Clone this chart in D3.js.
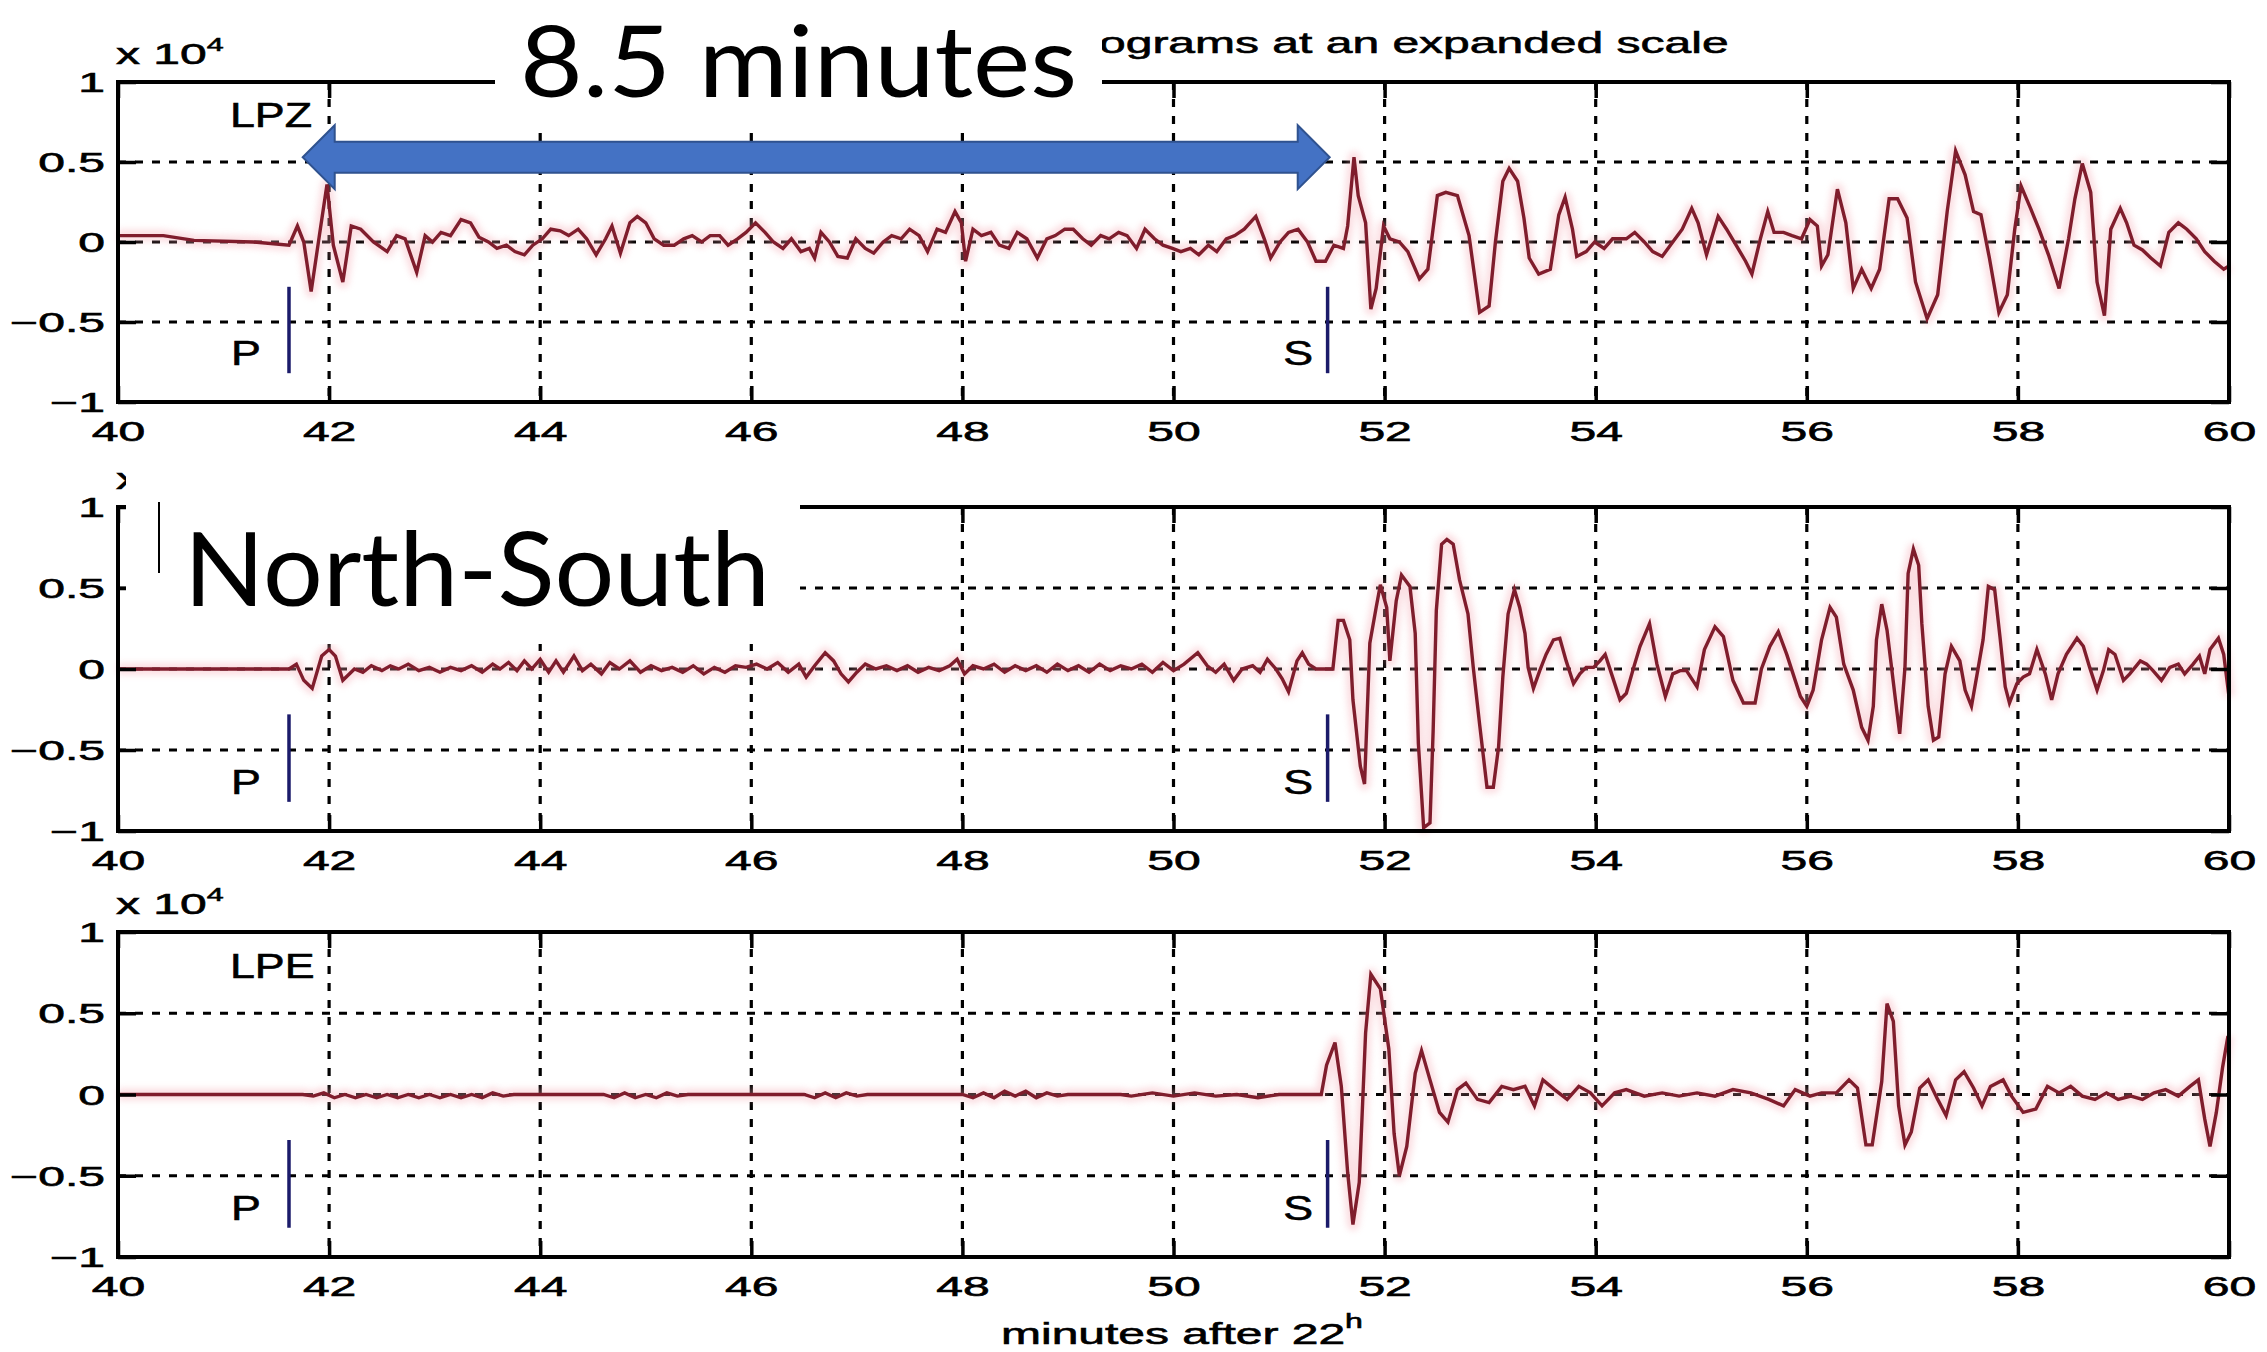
<!DOCTYPE html>
<html>
<head>
<meta charset="utf-8">
<script src="https://cdn.jsdelivr.net/npm/d3@7"></script>
<style>
  html, body { margin: 0; padding: 0; background: #ffffff; }
  svg { display: block; }
</style>
</head>
<body>
<svg id="chart" width="2267" height="1352"></svg>
<script>
// ---- Tick values and labels ----
const minuteTicks = [40, 42, 44, 46, 48, 50, 52, 54, 56, 58, 60];
const minuteTickLabels = ["40", "42", "44", "46", "48", "50", "52", "54", "56", "58", "60"];
const ampTicks = [-1, -0.5, 0, 0.5, 1];
const ampTickLabels = ["\u22121", "\u22120.5", "0", "0.5", "1"];

// ---- Station components and phase picks (minutes after 22h) ----
const componentNames = ["LPZ", "LPN", "LPE"];
const pArrival = 41.62;
const sArrival = 51.46;
const pickSpan = [-0.28, -0.82];        // amplitude range of the pick bars
const pickLabelAt = [41.07, 51.04];     // left edge of the "P" / "S" letters
const arrowSpan = [41.75, 51.48];       // S-P interval arrow, minutes

// ---- Seismogram traces: [minute, amplitude x 10^4] ----
const lpzTrace = [
  [40.00,0.04],[40.43,0.04],[40.72,0.01],[41.28,0.0],[41.62,-0.02],[41.70,0.10],[41.76,0.0],[41.83,-0.31],
  [41.91,0.05],[41.98,0.36],[42.04,-0.02],[42.13,-0.25],[42.21,0.10],[42.30,0.08],[42.42,0.0],[42.55,-0.06],
  [42.64,0.04],[42.72,0.02],[42.83,-0.19],[42.91,0.04],[42.98,0.0],[43.06,0.06],[43.15,0.04],[43.25,0.14],
  [43.34,0.12],[43.42,0.03],[43.51,0.0],[43.59,-0.04],[43.68,-0.02],[43.76,-0.06],[43.85,-0.08],[43.93,-0.02],
  [44.02,0.02],[44.10,0.08],[44.19,0.07],[44.27,0.04],[44.36,0.08],[44.44,0.02],[44.53,-0.08],[44.62,0.02],
  [44.68,0.10],[44.76,-0.07],[44.85,0.12],[44.92,0.16],[45.00,0.12],[45.08,0.02],[45.17,-0.02],[45.27,-0.02],
  [45.36,0.02],[45.44,0.04],[45.53,0.0],[45.61,0.04],[45.70,0.04],[45.78,-0.02],[45.87,0.02],[45.95,0.06],
  [46.04,0.12],[46.13,0.06],[46.21,0.0],[46.30,-0.04],[46.38,0.02],[46.47,-0.06],[46.55,-0.04],[46.60,-0.10],
  [46.66,0.06],[46.74,0.0],[46.82,-0.09],[46.91,-0.10],[46.99,0.02],[47.08,-0.04],[47.16,-0.07],[47.25,0.0],
  [47.33,0.04],[47.42,0.02],[47.50,0.08],[47.59,0.04],[47.67,-0.06],[47.76,0.08],[47.84,0.06],[47.93,0.19],
  [47.99,0.12],[48.03,-0.12],[48.10,0.08],[48.18,0.04],[48.27,0.06],[48.35,-0.02],[48.44,-0.04],[48.52,0.06],
  [48.61,0.02],[48.71,-0.10],[48.80,0.02],[48.88,0.04],[48.97,0.08],[49.05,0.08],[49.14,0.02],[49.22,-0.02],
  [49.31,0.04],[49.39,0.02],[49.48,0.06],[49.56,0.04],[49.65,-0.04],[49.73,0.08],[49.82,0.02],[49.90,-0.02],
  [49.99,-0.04],[50.07,-0.06],[50.16,-0.04],[50.24,-0.08],[50.33,-0.02],[50.41,-0.06],[50.50,0.02],[50.58,0.04],
  [50.67,0.08],[50.78,0.16],[50.86,0.02],[50.92,-0.10],[51.01,0.0],[51.09,0.06],[51.18,0.08],[51.27,0.0],
  [51.35,-0.12],[51.44,-0.12],[51.52,-0.02],[51.61,-0.04],[51.65,0.10],[51.71,0.53],[51.75,0.29],[51.82,0.12],
  [51.87,-0.42],[51.92,-0.29],[51.99,0.10],[52.05,0.02],[52.14,0.0],[52.22,-0.06],[52.33,-0.23],[52.41,-0.17],
  [52.50,0.29],[52.58,0.31],[52.69,0.29],[52.80,0.04],[52.90,-0.44],[52.99,-0.40],[53.05,0.0],[53.12,0.38],
  [53.18,0.46],[53.26,0.38],[53.32,0.15],[53.37,-0.10],[53.46,-0.20],[53.57,-0.17],[53.65,0.17],[53.71,0.28],
  [53.78,0.08],[53.82,-0.09],[53.91,-0.06],[53.99,0.0],[54.08,-0.04],[54.16,0.02],[54.29,0.02],[54.37,0.06],
  [54.46,0.0],[54.54,-0.06],[54.63,-0.09],[54.73,0.0],[54.82,0.08],[54.91,0.21],[54.97,0.12],[55.05,-0.08],
  [55.16,0.16],[55.24,0.08],[55.33,-0.02],[55.42,-0.12],[55.48,-0.20],[55.56,0.02],[55.63,0.19],[55.69,0.06],
  [55.78,0.06],[55.86,0.04],[55.95,0.02],[56.03,0.14],[56.10,0.10],[56.14,-0.15],[56.20,-0.08],[56.29,0.33],
  [56.37,0.12],[56.44,-0.29],[56.52,-0.17],[56.61,-0.29],[56.69,-0.17],[56.78,0.27],[56.86,0.27],[56.95,0.15],
  [57.03,-0.25],[57.14,-0.48],[57.24,-0.33],[57.33,0.19],[57.41,0.57],[57.50,0.42],[57.58,0.19],[57.65,0.17],
  [57.73,-0.10],[57.82,-0.44],[57.90,-0.33],[57.97,0.08],[58.03,0.35],[58.12,0.21],[58.20,0.08],[58.29,-0.08],
  [58.39,-0.29],[58.48,0.02],[58.54,0.27],[58.61,0.49],[58.69,0.31],[58.75,-0.25],[58.82,-0.46],[58.88,0.08],
  [58.97,0.21],[59.03,0.12],[59.10,-0.02],[59.18,-0.05],[59.26,-0.10],[59.35,-0.15],[59.43,0.06],[59.52,0.12],
  [59.60,0.08],[59.69,0.02],[59.77,-0.06],[59.86,-0.12],[59.95,-0.17],[60.00,-0.15]
];

const lpnTrace = [
  [40.00,0.0],[41.55,0.0],[41.62,0.0],[41.69,0.03],[41.76,-0.07],[41.84,-0.12],[41.93,0.08],[42.00,0.12],
  [42.06,0.08],[42.13,-0.07],[42.24,0.0],[42.32,-0.02],[42.40,0.02],[42.50,-0.01],[42.58,0.02],[42.66,0.0],
  [42.75,0.03],[42.85,-0.01],[42.95,0.01],[43.05,-0.02],[43.15,0.01],[43.25,-0.01],[43.35,0.02],[43.45,-0.02],
  [43.55,0.03],[43.62,0.0],[43.70,0.04],[43.78,-0.01],[43.85,0.05],[43.92,0.0],[44.00,0.06],[44.08,-0.02],
  [44.15,0.05],[44.22,-0.02],[44.32,0.08],[44.40,-0.01],[44.48,0.03],[44.58,-0.03],[44.66,0.04],[44.75,0.0],
  [44.85,0.05],[44.95,-0.02],[45.05,0.02],[45.15,-0.01],[45.25,0.01],[45.35,-0.02],[45.45,0.02],[45.55,-0.03],
  [45.65,0.01],[45.75,-0.02],[45.85,0.02],[45.95,0.01],[46.05,0.03],[46.15,0.0],[46.25,0.04],[46.35,-0.02],
  [46.45,0.03],[46.52,-0.05],[46.60,0.02],[46.70,0.10],[46.78,0.05],[46.85,-0.03],[46.92,-0.08],[47.00,-0.02],
  [47.08,0.03],[47.18,0.0],[47.28,0.02],[47.38,-0.01],[47.48,0.02],[47.58,-0.02],[47.68,0.01],[47.78,-0.01],
  [47.88,0.02],[47.95,0.06],[48.02,-0.03],[48.10,0.02],[48.20,0.0],[48.30,0.03],[48.40,-0.02],[48.50,0.02],
  [48.60,-0.01],[48.70,0.02],[48.80,-0.02],[48.90,0.03],[49.00,-0.01],[49.10,0.02],[49.20,-0.02],[49.30,0.03],
  [49.40,-0.01],[49.50,0.02],[49.60,0.0],[49.70,0.03],[49.80,-0.02],[49.90,0.04],[50.00,-0.01],[50.10,0.03],
  [50.23,0.10],[50.32,0.02],[50.40,-0.02],[50.48,0.03],[50.57,-0.07],[50.65,0.0],[50.75,0.02],[50.82,-0.02],
  [50.89,0.06],[50.97,0.0],[51.03,-0.06],[51.09,-0.14],[51.17,0.05],[51.22,0.10],[51.28,0.03],[51.35,0.0],
  [51.51,0.0],[51.56,0.30],[51.61,0.30],[51.67,0.18],[51.70,-0.19],[51.77,-0.60],[51.81,-0.71],[51.86,0.16],
  [51.92,0.38],[51.96,0.52],[52.02,0.38],[52.05,0.05],[52.11,0.42],[52.16,0.58],[52.24,0.51],[52.29,0.22],
  [52.32,-0.46],[52.37,-0.98],[52.43,-0.95],[52.46,-0.38],[52.49,0.36],[52.54,0.77],[52.59,0.80],[52.65,0.77],
  [52.71,0.55],[52.79,0.34],[52.84,0.01],[52.90,-0.34],[52.97,-0.73],[53.03,-0.73],[53.08,-0.48],[53.12,-0.05],
  [53.17,0.34],[53.23,0.49],[53.28,0.38],[53.33,0.22],[53.36,0.01],[53.41,-0.12],[53.47,-0.01],[53.53,0.09],
  [53.60,0.18],[53.66,0.19],[53.72,0.05],[53.79,-0.09],[53.85,-0.03],[53.91,0.01],[53.98,0.01],[54.04,0.05],
  [54.09,0.09],[54.15,-0.03],[54.23,-0.19],[54.29,-0.15],[54.36,0.01],[54.42,0.14],[54.51,0.28],[54.58,0.03],
  [54.66,-0.17],[54.73,-0.03],[54.80,-0.01],[54.86,-0.01],[54.96,-0.11],[55.03,0.12],[55.13,0.26],[55.21,0.20],
  [55.30,-0.07],[55.40,-0.21],[55.51,-0.21],[55.57,0.0],[55.65,0.14],[55.73,0.23],[55.81,0.09],[55.86,-0.01],
  [55.94,-0.17],[56.00,-0.23],[56.06,-0.13],[56.14,0.18],[56.22,0.38],[56.28,0.32],[56.35,0.03],[56.44,-0.13],
  [56.52,-0.36],[56.58,-0.44],[56.63,-0.23],[56.66,0.18],[56.71,0.40],[56.76,0.24],[56.84,-0.19],[56.88,-0.40],
  [56.93,0.01],[56.96,0.59],[57.01,0.74],[57.06,0.64],[57.09,0.28],[57.15,-0.23],[57.20,-0.44],[57.25,-0.42],
  [57.31,-0.03],[57.37,0.14],[57.45,0.05],[57.50,-0.13],[57.56,-0.23],[57.63,0.03],[57.67,0.18],[57.72,0.51],
  [57.78,0.49],[57.83,0.20],[57.88,-0.11],[57.92,-0.21],[57.99,-0.09],[58.05,-0.05],[58.11,-0.03],[58.18,0.12],
  [58.26,-0.03],[58.32,-0.19],[58.38,-0.03],[58.46,0.09],[58.56,0.19],[58.62,0.14],[58.68,0.01],[58.75,-0.13],
  [58.81,-0.01],[58.86,0.12],[58.92,0.09],[59.00,-0.07],[59.06,-0.03],[59.16,0.05],[59.22,0.03],[59.28,-0.01],
  [59.36,-0.07],[59.44,0.01],[59.52,0.03],[59.58,-0.03],[59.66,0.03],[59.72,0.08],[59.77,-0.03],[59.82,0.12],
  [59.90,0.19],[59.95,0.09],[60.00,-0.17]
];

const lpeTrace = [
  [40.00,0.0],[41.75,0.0],[41.85,-0.01],[41.95,0.01],[42.05,-0.02],[42.15,0.0],[42.25,-0.02],[42.35,0.0],
  [42.45,-0.02],[42.55,0.0],[42.65,-0.02],[42.75,0.0],[42.85,-0.02],[42.95,0.0],[43.05,-0.02],[43.15,0.0],
  [43.25,-0.02],[43.35,0.0],[43.45,-0.02],[43.55,0.01],[43.65,-0.01],[43.75,0.0],[44.00,0.0],[44.60,0.0],
  [44.70,-0.02],[44.80,0.01],[44.90,-0.02],[45.00,0.0],[45.10,-0.02],[45.20,0.01],[45.30,-0.01],[45.40,0.0],
  [46.00,0.0],[46.50,0.0],[46.60,-0.02],[46.70,0.01],[46.80,-0.02],[46.90,0.01],[47.00,-0.01],[47.10,0.0],
  [48.00,0.0],[48.10,-0.02],[48.20,0.01],[48.30,-0.02],[48.40,0.02],[48.50,-0.01],[48.60,0.02],[48.70,-0.02],
  [48.80,0.01],[48.90,-0.01],[49.00,0.0],[49.50,0.0],[49.60,-0.01],[49.80,0.01],[50.00,-0.01],[50.20,0.01],
  [50.40,-0.01],[50.60,0.0],[50.80,-0.02],[51.00,0.0],[51.20,0.0],[51.40,0.0],[51.45,0.18],[51.53,0.32],
  [51.59,0.05],[51.65,-0.48],[51.70,-0.80],[51.76,-0.54],[51.82,0.38],[51.87,0.74],[51.96,0.65],[52.04,0.28],
  [52.09,-0.24],[52.14,-0.50],[52.21,-0.32],[52.29,0.13],[52.35,0.27],[52.43,0.09],[52.52,-0.11],[52.60,-0.17],
  [52.69,0.03],[52.77,0.07],[52.88,-0.03],[52.99,-0.05],[53.11,0.05],[53.22,0.03],[53.33,0.05],[53.42,-0.07],
  [53.50,0.09],[53.61,0.03],[53.73,-0.03],[53.84,0.05],[53.95,0.01],[54.06,-0.07],[54.18,0.01],[54.29,0.03],
  [54.46,-0.01],[54.63,0.01],[54.79,-0.01],[54.96,0.01],[55.13,-0.01],[55.30,0.03],[55.47,0.01],[55.64,-0.03],
  [55.78,-0.07],[55.89,0.03],[56.03,-0.01],[56.14,0.01],[56.28,0.01],[56.40,0.09],[56.48,0.04],[56.56,-0.31],
  [56.62,-0.31],[56.71,0.08],[56.76,0.56],[56.82,0.45],[56.87,-0.07],[56.93,-0.31],[56.99,-0.23],[57.07,0.04],
  [57.15,0.09],[57.24,-0.03],[57.32,-0.13],[57.41,0.09],[57.49,0.14],[57.58,0.04],[57.66,-0.07],[57.74,0.05],
  [57.86,0.09],[57.94,-0.01],[58.05,-0.11],[58.17,-0.09],[58.28,0.05],[58.39,0.01],[58.50,0.05],[58.61,-0.01],
  [58.73,-0.03],[58.84,0.01],[58.95,-0.03],[59.07,-0.01],[59.18,-0.03],[59.29,0.01],[59.40,0.03],[59.52,-0.01],
  [59.63,0.05],[59.71,0.09],[59.77,-0.15],[59.82,-0.32],[59.88,-0.11],[59.94,0.17],[59.99,0.36]
];

const traces = [lpzTrace, lpnTrace, lpeTrace];

// ---- Layout ----
const svg = d3.select("#chart");
const plotLeft = 118, plotRight = 2229;
const panelTops = [82, 507, 932];
const panelHeights = [320, 324, 325];
const FONT = "'Liberation Sans', Arial, Helvetica, sans-serif";
const traceColor = "#7f1d2c";
const pickColor = "#1b1b6a";
// per-role text size and horizontal stretch
const TXT = {
  tick:  { size: 27, sx: 1.78 },
  title: { size: 30, sx: 1.6 },
  label: { size: 35, sx: 1.28 }
};

const x = d3.scaleLinear().domain([40, 60]).range([plotLeft, plotRight]);

const defs = svg.append("defs");
defs.append("filter").attr("id", "glow").attr("x", "-5%").attr("y", "-20%").attr("width", "110%").attr("height", "140%")
  .append("feGaussianBlur").attr("stdDeviation", 3);

svg.append("rect").attr("width", 2267).attr("height", 1352).attr("fill", "#fff");

function mText(parent, px, py, str, anchor, style) {
  return parent.append("text")
    .attr("transform", `translate(${px},${py}) scale(${style.sx},1)`)
    .attr("text-anchor", anchor || "start")
    .attr("font-family", FONT)
    .attr("font-size", style.size)
    .attr("fill", "#000")
    .attr("stroke", "#000").attr("stroke-width", 0.6)
    .text(str);
}

const scales = [];

panelTops.forEach((top, i) => {
  const h = panelHeights[i];
  const y = d3.scaleLinear().domain([-1, 1]).range([top + h, top]);
  scales.push(y);
  const g = svg.append("g").attr("class", "panel");

  // dotted grid
  const grid = g.append("g").attr("stroke", "#000").attr("stroke-width", 3.2)
    .attr("stroke-dasharray", "8,9").attr("fill", "none");
  minuteTicks.slice(1, -1).forEach(t => {
    grid.append("line").attr("x1", x(t)).attr("x2", x(t)).attr("y1", top).attr("y2", top + h);
  });
  [-0.5, 0, 0.5].forEach(v => {
    grid.append("line").attr("x1", plotLeft).attr("x2", plotRight).attr("y1", y(v)).attr("y2", y(v));
  });

  // seismogram trace with soft halo
  const line = d3.line().x(d => x(d[0])).y(d => y(d[1]));
  g.append("path").datum(traces[i]).attr("d", line).attr("fill", "none")
    .attr("stroke", "#f4a3ad").attr("stroke-width", 12).attr("opacity", 0.35)
    .attr("stroke-linejoin", "round").attr("filter", "url(#glow)");
  g.append("path").datum(traces[i]).attr("d", line).attr("fill", "none")
    .attr("stroke", traceColor).attr("stroke-width", 3.4).attr("stroke-linejoin", "miter");

  // axes: ticks inside on all four sides
  const bottomAxis = d3.axisBottom(x).tickValues(minuteTicks).tickSizeInner(-16).tickSizeOuter(0)
    .tickFormat((d, k) => minuteTickLabels[k]);
  const ax = g.append("g").attr("transform", `translate(0,${top + h})`).call(bottomAxis);
  ax.select(".domain").remove();
  ax.selectAll(".tick line").attr("stroke", "#000").attr("stroke-width", 3.5);
  ax.selectAll(".tick text").attr("y", 0).attr("dy", 0)
    .attr("transform", `translate(0,39) scale(${TXT.tick.sx},1)`)
    .attr("font-family", FONT).attr("font-size", TXT.tick.size).attr("fill", "#000")
    .attr("stroke", "#000").attr("stroke-width", 0.6);

  const topAxis = d3.axisTop(x).tickValues(minuteTicks).tickSizeInner(-16).tickSizeOuter(0).tickFormat("");
  const axt = g.append("g").attr("transform", `translate(0,${top})`).call(topAxis);
  axt.select(".domain").remove();
  axt.selectAll(".tick line").attr("stroke", "#000").attr("stroke-width", 3.5);

  const leftAxis = d3.axisLeft(y).tickValues(ampTicks).tickSizeInner(-18).tickSizeOuter(0)
    .tickFormat((d, k) => ampTickLabels[k]);
  const axl = g.append("g").attr("transform", `translate(${plotLeft},0)`).call(leftAxis);
  axl.select(".domain").remove();
  axl.selectAll(".tick line").attr("stroke", "#000").attr("stroke-width", 3.5);
  axl.selectAll(".tick text").attr("x", 0).attr("dy", 0)
    .attr("transform", `translate(-13,9.7) scale(${TXT.tick.sx},1)`)
    .attr("text-anchor", "end")
    .attr("font-family", FONT).attr("font-size", TXT.tick.size).attr("fill", "#000")
    .attr("stroke", "#000").attr("stroke-width", 0.6);

  const rightAxis = d3.axisRight(y).tickValues(ampTicks).tickSizeInner(-18).tickSizeOuter(0).tickFormat("");
  const axr = g.append("g").attr("transform", `translate(${plotRight},0)`).call(rightAxis);
  axr.select(".domain").remove();
  axr.selectAll(".tick line").attr("stroke", "#000").attr("stroke-width", 3.5);

  // frame
  g.append("rect").attr("x", plotLeft).attr("y", top).attr("width", plotRight - plotLeft).attr("height", h)
    .attr("fill", "none").attr("stroke", "#000").attr("stroke-width", 4);

  // multiplier label
  const mult = mText(g, 116, top - 18, "x 10", "start", TXT.title);
  mult.append("tspan").attr("dy", -13).attr("font-size", 19).text("4");

  // component name
  if (i !== 1) mText(g, x(41.06), y(0.72), componentNames[i], "start", TXT.label);

  // P and S picks
  [pArrival, sArrival].forEach((t, k) => {
    g.append("line").attr("x1", x(t)).attr("x2", x(t)).attr("y1", y(pickSpan[0])).attr("y2", y(pickSpan[1]))
      .attr("stroke", pickColor).attr("stroke-width", 3.5);
    mText(g, x(pickLabelAt[k]), y(-0.77), k === 0 ? "P" : "S", "start", TXT.label);
  });
});

// x-axis caption
const cap = mText(svg, 1001, 1344, "minutes after 22", "start", TXT.title);
cap.append("tspan").attr("dy", -16).attr("font-size", 20).text("h");

// title (its left part lies under the callout box)
mText(svg, 1099, 53, "ograms at an expanded scale", "start", TXT.title);

// ---- Annotations ----
const noteFont = "Lato, 'Open Sans', 'Noto Sans', sans-serif";

// "8.5 minutes" callout
svg.append("rect").attr("x", 495).attr("y", 0).attr("width", 607).attr("height", 127).attr("fill", "#fff");
svg.append("text").attr("x", 520).attr("y", 97).attr("font-family", noteFont).attr("font-size", 98)
  .attr("textLength", 557).attr("lengthAdjust", "spacingAndGlyphs").attr("fill", "#000").text("8.5 minutes");

// S-P interval double arrow
{
  const y0 = scales[0];
  const xa = x(arrowSpan[0]), xb = x(arrowSpan[1]), cy = y0(0.53);
  const hl = 32, hh = 32, sh = 15.5;
  const pts = [[xa, cy], [xa + hl, cy - hh], [xa + hl, cy - sh], [xb - hl, cy - sh], [xb - hl, cy - hh], [xb, cy],
    [xb - hl, cy + hh], [xb - hl, cy + sh], [xa + hl, cy + sh], [xa + hl, cy + hh]];
  svg.append("path").attr("d", d3.line()(pts) + "Z").attr("fill", "#4472c4")
    .attr("stroke", "#2f528f").attr("stroke-width", 2).attr("stroke-linejoin", "miter");
}

// "North-South" callout
svg.append("rect").attr("x", 126).attr("y", 452).attr("width", 674).attr("height", 192).attr("fill", "#fff");
svg.append("line").attr("x1", 159).attr("x2", 159).attr("y1", 502).attr("y2", 573)
  .attr("stroke", "#000").attr("stroke-width", 2);
svg.append("text").attr("x", 184).attr("y", 606).attr("font-family", noteFont).attr("font-size", 102)
  .attr("textLength", 586).attr("lengthAdjust", "spacingAndGlyphs").attr("fill", "#000").text("North-South");
</script>
</body>
</html>
